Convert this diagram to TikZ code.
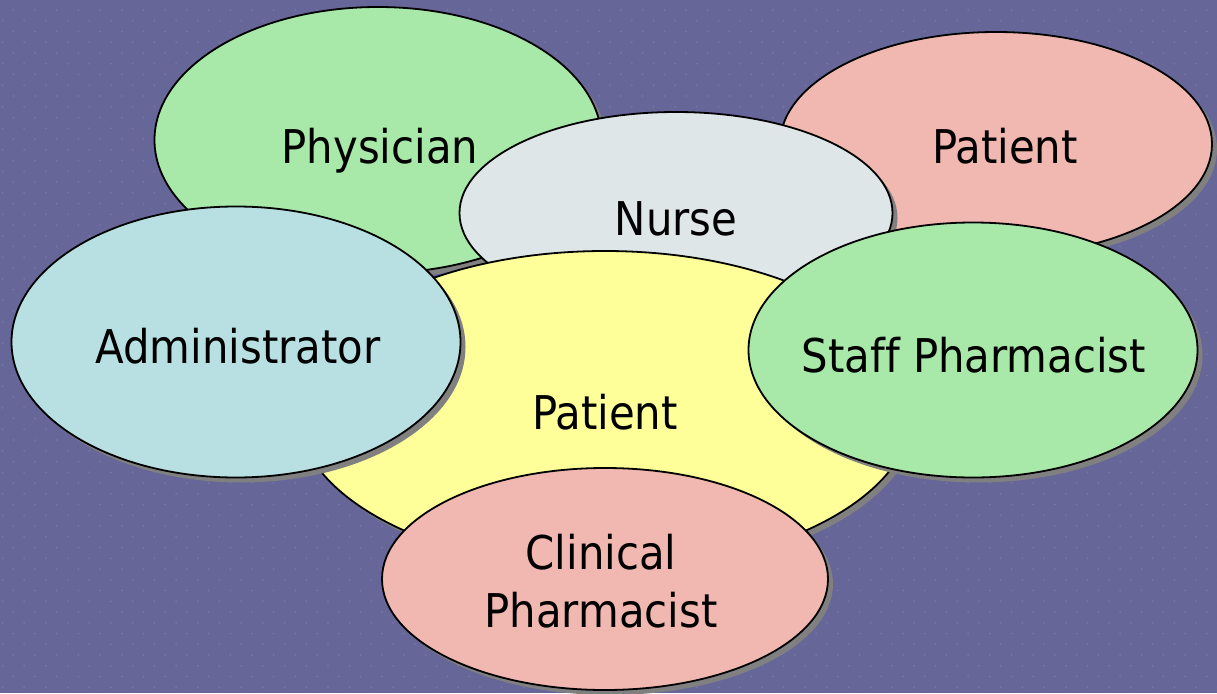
\documentclass[tikz,border=0pt]{standalone}
\usepackage{fontspec}
\setmainfont{DejaVu Sans Condensed}[Ligatures=NoCommon]
\usetikzlibrary{shapes.geometric,shadows}

\definecolor{slate}{HTML}{666699}
\definecolor{slatedot}{HTML}{7676A8}
\definecolor{leaf}{HTML}{A8E8A8}
\definecolor{blush}{HTML}{F0B8B0}
\definecolor{mist}{HTML}{DFE6E8}
\definecolor{butter}{HTML}{FFFF99}
\definecolor{ice}{HTML}{B8E0E2}

\begin{document}
\begin{tikzpicture}[x=1pt, y=-1pt,
  bubble/.style={ellipse, draw, line width=1.8pt, inner sep=0pt,
    drop shadow={shadow xshift=5pt, shadow yshift=-5pt, fill=black!50, opacity=1}},
  word/.style={font=\fontsize{46.5}{58}\selectfont, align=center, inner sep=0pt, anchor=base}]
% backdrop with a faint staggered dot grid
\fill[slate] (0,0) rectangle (1217,693);
\useasboundingbox (0,0) rectangle (1217,693);
\foreach \r in {0,...,63}{
  \pgfmathsetmacro\yy{10+10.75*\r}
  \pgfmathsetmacro\xo{mod(\r,2)==0 ? 13.3 : 2.5}
  \foreach \c in {0,...,56}
    \fill[slatedot] (\xo+21.7*\c,\yy) circle[radius=1pt];
}
% bubbles, back to front
\node[bubble, fill=leaf, minimum width=447pt, minimum height=266pt] (phys) at (378,140) {};
\node[word] (phys-txt) at (380,163) {Physician};
\node[bubble, fill=blush, minimum width=432pt, minimum height=224pt] (pat) at (996,144) {};
\node[word] (pat-txt) at (1005,163) {Patient};
\node[bubble, fill=mist, minimum width=433pt, minimum height=202pt] (nurse) at (676,213) {};
\node[word] (nurse-txt) at (676,235) {Nurse};
\node[bubble, fill=butter, minimum width=616pt, minimum height=318pt] (core) at (605,410) {};
\node[word] (core-txt) at (605,429) {Patient};
\node[bubble, fill=ice, minimum width=449pt, minimum height=271pt] (admin) at (236,342) {};
\node[word] (admin-txt) at (238,363) {Administrator};
\node[bubble, fill=leaf, minimum width=449pt, minimum height=255pt] (staff) at (973,350) {};
\node[word] (staff-txt) at (974,372) {Staff Pharmacist};
\node[bubble, fill=blush, minimum width=446pt, minimum height=222pt] (clin) at (605,579) {};
\node[word, anchor=center] (clin-txt) at (601,581) {Clinical\\Pharmacist};
\end{tikzpicture}
\end{document}
